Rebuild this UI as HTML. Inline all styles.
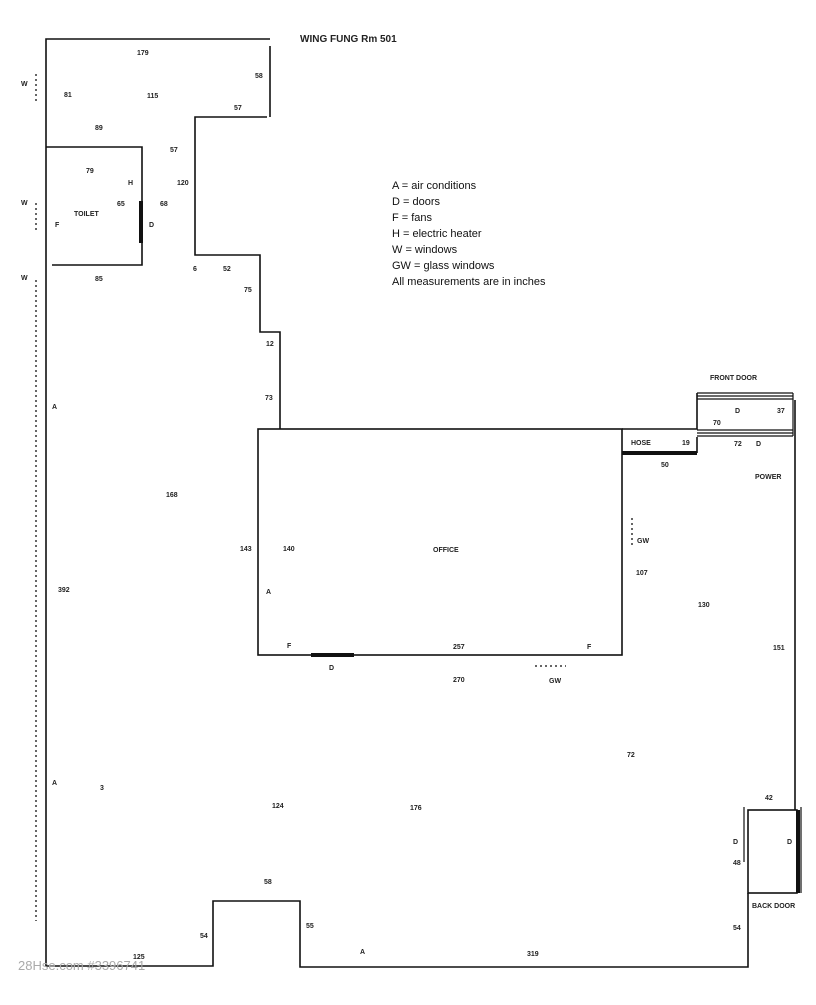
<!DOCTYPE html>
<html><head><meta charset="utf-8"><style>
html,body{margin:0;padding:0;background:#fff;}
svg text{font-family:"Liberation Sans",sans-serif;font-weight:bold;fill:#222;font-size:7px;}
svg text.lg{font-size:11px;font-weight:normal;fill:#111;}
svg text.tt{font-size:10px;}
svg text.wm{font-size:13px;font-weight:normal;fill:#aaa;}
</style></head><body>
<svg width="816" height="1000" viewBox="0 0 816 1000" xmlns="http://www.w3.org/2000/svg">
<g stroke="#111" stroke-width="1.6" fill="none">
<polyline points="270,39 46,39 46,966 213,966 213,901 300,901 300,967 748,967 748,893"/>
<line x1="270" y1="46" x2="270" y2="117"/>
<polyline points="267,117 195,117 195,255 260,255 260,332 280,332 280,429"/>
<rect x="258" y="429" width="364" height="226"/>
<polyline points="622,429 697,429 697,393"/>
<line x1="622" y1="453" x2="697" y2="453"/>
<line x1="697" y1="437" x2="697" y2="453"/>
<polyline points="52,265 142,265 142,147 46,147"/>
<line x1="795" y1="400" x2="795" y2="810"/>
<rect x="748" y="810" width="49" height="83"/>
</g>
<g stroke="#111" stroke-width="1.2">
<line x1="697" y1="393" x2="793" y2="393"/><line x1="697" y1="396" x2="793" y2="396"/><line x1="697" y1="399" x2="793" y2="399"/>
<line x1="697" y1="430" x2="793" y2="430"/><line x1="697" y1="433" x2="793" y2="433"/><line x1="697" y1="436" x2="793" y2="436"/>
<line x1="793" y1="393" x2="793" y2="436"/>
<line x1="744" y1="807" x2="744" y2="862"/><line x1="801" y1="807" x2="801" y2="893"/>
</g>
<g stroke="#111" stroke-width="4">
<line x1="141" y1="201" x2="141" y2="243"/>
<line x1="311" y1="655" x2="354" y2="655"/>
<line x1="622" y1="453" x2="697" y2="453"/>
<line x1="798" y1="810" x2="798" y2="893"/>
</g>
<g stroke="#333" stroke-width="1.5" stroke-dasharray="2,3">
<line x1="36" y1="74" x2="36" y2="104"/>
<line x1="36" y1="203" x2="36" y2="231"/>
<line x1="36" y1="280" x2="36" y2="921"/>
<line x1="632" y1="518" x2="632" y2="548"/>
<line x1="535" y1="666" x2="566" y2="666"/>
</g>
<text class="tt" x="300" y="42">WING FUNG Rm 501</text>
<text class="lg" x="392" y="189">A = air conditions</text>
<text class="lg" x="392" y="205">D = doors</text>
<text class="lg" x="392" y="221">F = fans</text>
<text class="lg" x="392" y="237">H = electric heater</text>
<text class="lg" x="392" y="253">W = windows</text>
<text class="lg" x="392" y="269">GW = glass windows</text>
<text class="lg" x="392" y="285">All measurements are in inches</text>
<text x="137" y="55">179</text><text x="255" y="78">58</text><text x="64" y="97">81</text><text x="147" y="98">115</text>
<text x="234" y="110">57</text><text x="95" y="130">89</text><text x="170" y="152">57</text><text x="86" y="173">79</text>
<text x="128" y="185">H</text><text x="177" y="185">120</text><text x="21" y="86">W</text><text x="21" y="205">W</text><text x="21" y="280">W</text>
<text x="117" y="206">65</text><text x="160" y="206">68</text><text x="74" y="216">TOILET</text><text x="55" y="227">F</text><text x="149" y="227">D</text>
<text x="95" y="281">85</text><text x="193" y="271">6</text><text x="223" y="271">52</text><text x="244" y="292">75</text>
<text x="266" y="346">12</text><text x="265" y="400">73</text><text x="52" y="409">A</text><text x="166" y="497">168</text>
<text x="240" y="551">143</text><text x="283" y="551">140</text><text x="433" y="552">OFFICE</text><text x="266" y="594">A</text>
<text x="58" y="592">392</text><text x="287" y="648">F</text><text x="453" y="649">257</text><text x="587" y="649">F</text>
<text x="329" y="670">D</text><text x="453" y="682">270</text><text x="549" y="683">GW</text>
<text x="710" y="380">FRONT DOOR</text><text x="735" y="413">D</text><text x="777" y="413">37</text><text x="713" y="425">70</text>
<text x="631" y="445">HOSE</text><text x="682" y="445">19</text><text x="734" y="446">72</text><text x="756" y="446">D</text>
<text x="661" y="467">50</text><text x="755" y="479">POWER</text><text x="637" y="543">GW</text><text x="636" y="575">107</text>
<text x="698" y="607">130</text><text x="773" y="650">151</text><text x="627" y="757">72</text>
<text x="52" y="785">A</text><text x="100" y="790">3</text><text x="272" y="808">124</text><text x="410" y="810">176</text>
<text x="765" y="800">42</text><text x="733" y="844">D</text><text x="787" y="844">D</text><text x="733" y="865">48</text>
<text x="752" y="908">BACK DOOR</text><text x="733" y="930">54</text><text x="264" y="884">58</text>
<text x="200" y="938">54</text><text x="306" y="928">55</text><text x="133" y="959">125</text><text x="360" y="954">A</text><text x="527" y="956">319</text>
<text class="wm" x="18" y="970">28Hse.com #3396741</text>
</svg>
</body></html>
